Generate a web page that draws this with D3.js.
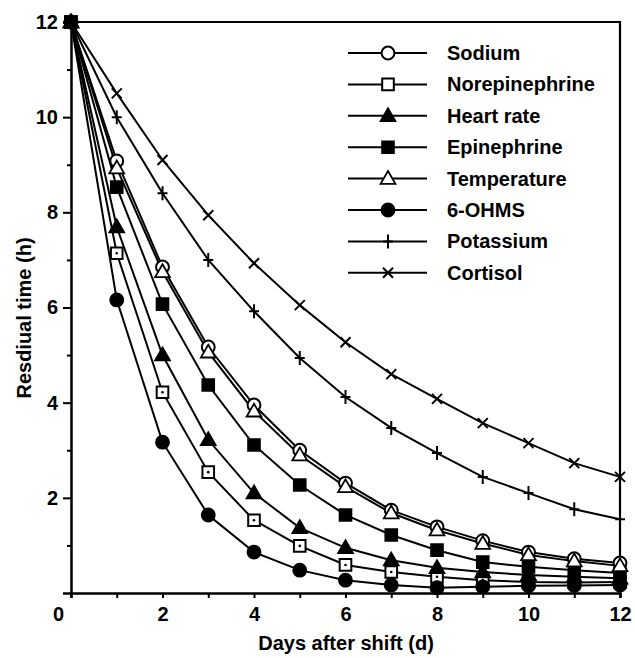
<!DOCTYPE html>
<html>
<head>
<meta charset="utf-8">
<script src="https://cdn.jsdelivr.net/npm/d3@7"></script>
<style>
  body { margin: 0; background: #fff; }
  text { font-family: "Liberation Sans", Arial, sans-serif; font-weight: bold; fill: #000; }
</style>
</head>
<body>
<div class="chart"></div>
<script>
// days after the shift
var days = [0, 1, 2, 3, 4, 5, 6, 7, 8, 9, 10, 11, 12];

// residual time (h)
var sodium         = [12, 9.08, 6.85, 5.17, 3.95, 3.0, 2.31, 1.74, 1.39, 1.1, 0.86, 0.72, 0.63];
var norepinephrine = [12, 7.14, 4.22, 2.54, 1.53, 0.99, 0.59, 0.44, 0.34, 0.27, 0.23, 0.22, 0.23];
var heartRate      = [12, 7.69, 5.0, 3.22, 2.1, 1.37, 0.95, 0.69, 0.53, 0.44, 0.38, 0.34, 0.31];
var epinephrine    = [12, 8.53, 6.07, 4.37, 3.11, 2.27, 1.64, 1.22, 0.9, 0.65, 0.55, 0.48, 0.42];
var temperature    = [12, 8.93, 6.75, 5.06, 3.82, 2.9, 2.23, 1.68, 1.32, 1.04, 0.8, 0.67, 0.57];
var ohms           = [12, 6.16, 3.17, 1.64, 0.86, 0.48, 0.27, 0.17, 0.11, 0.13, 0.15, 0.16, 0.17];
var potassium      = [12, 10.0, 8.4, 7.0, 5.92, 4.94, 4.12, 3.47, 2.94, 2.44, 2.1, 1.76, 1.55];
var cortisol       = [12, 10.5, 9.1, 7.94, 6.93, 6.05, 5.27, 4.6, 4.08, 3.57, 3.15, 2.73, 2.44];

var seriesNames = ["Sodium", "Norepinephrine", "Heart rate", "Epinephrine",
                   "Temperature", "6-OHMS", "Potassium", "Cortisol"];
var seriesValues = [sodium, norepinephrine, heartRate, epinephrine,
                    temperature, ohms, potassium, cortisol];
var seriesMarkers = ["openCircle", "openSquare", "triangle", "square",
                     "openTriangle", "circle", "plus", "times"];

var xTicks = [0, 2, 4, 6, 8, 10, 12];
var yTicks = [2, 4, 6, 8, 10, 12];

var svgWidth = 635;
var svgHeight = 658;

var svg = d3.select(".chart")
  .append("svg")
  .attr("width", svgWidth)
  .attr("height", svgHeight);

var xScale = d3.scaleLinear().domain([0, 12]).range([71, 620]);
var yScale = d3.scaleLinear().domain([0, 12]).range([593, 22]);

// marker drawing, shape by name
function drawMarker(g, type, x, y, inPlot) {
  if (type === "openCircle" || type === "circle") {
    g.append("path")
      .attr("d", d3.symbol(d3.symbolCircle, 130)())
      .attr("transform", "translate(" + x + "," + y + ")")
      .attr("fill", type === "circle" ? "#000" : "#fff")
      .attr("stroke", "#000").attr("stroke-width", 2);
  } else if (type === "openSquare" || type === "square") {
    g.append("path")
      .attr("d", d3.symbol(d3.symbolSquare, 135)())
      .attr("transform", "translate(" + x + "," + y + ")")
      .attr("fill", type === "square" ? "#000" : "#fff")
      .attr("stroke", "#000").attr("stroke-width", 2);
    if (type === "openSquare" && inPlot) {
      g.append("circle").attr("cx", x).attr("cy", y).attr("r", 1.3).attr("fill", "#000");
    }
  } else if (type === "openTriangle" || type === "triangle") {
    g.append("path")
      .attr("d", d3.symbol(d3.symbolTriangle, 95)())
      .attr("transform", "translate(" + x + "," + (y + 1) + ")")
      .attr("fill", type === "triangle" ? "#000" : "#fff")
      .attr("stroke", "#000").attr("stroke-width", 1.8);
  } else if (type === "plus") {
    g.append("path")
      .attr("d", "M-5,0H5M0,-7V7")
      .attr("transform", "translate(" + x + "," + y + ")")
      .attr("stroke", "#000").attr("stroke-width", 2);
  } else if (type === "times") {
    g.append("path")
      .attr("d", "M-5,-5L5,5M-5,5L5,-5")
      .attr("transform", "translate(" + x + "," + y + ")")
      .attr("stroke", "#000").attr("stroke-width", 2);
  }
}

var line = d3.line()
  .x(function(d, i) { return xScale(days[i]); })
  .y(function(d) { return yScale(d); });

// frame: top and right border
svg.append("path")
  .attr("d", "M" + xScale(0) + "," + yScale(12) + "H" + xScale(12) + "V" + yScale(0))
  .attr("fill", "none").attr("stroke", "#000").attr("stroke-width", 2.2);

// axes
var bottomAxis = d3.axisBottom(xScale)
  .tickValues(d3.range(0, 13, 1))
  .tickSize(5)
  .tickFormat(function(d) { return xTicks.indexOf(d) >= 0 ? d : ""; });
var leftAxis = d3.axisLeft(yScale)
  .tickValues(d3.range(1, 13, 1))
  .tickSize(8)
  .tickFormat(function(d) { return yTicks.indexOf(d) >= 0 ? d : ""; });

var xAxisG = svg.append("g")
  .attr("transform", "translate(0," + yScale(0) + ")")
  .call(bottomAxis);
var yAxisG = svg.append("g")
  .attr("transform", "translate(" + xScale(0) + ",0)")
  .call(leftAxis);

[xAxisG, yAxisG].forEach(function(a) {
  a.select(".domain").attr("stroke", "#000").attr("stroke-width", 2.5);
  a.selectAll(".tick line").attr("stroke", "#000").attr("stroke-width", 2);
  a.selectAll(".tick text")
    .style("font-family", "'Liberation Sans', Arial, sans-serif")
    .style("font-weight", "bold")
    .style("font-size", "20px")
    .attr("fill", "#000");
});
yAxisG.selectAll(".tick").filter(function(d) { return d % 2 === 1; })
  .select("line").attr("x2", -4);
yAxisG.selectAll(".tick text").attr("x", -13);
xAxisG.selectAll(".tick text").attr("y", 14);
xAxisG.selectAll(".tick").filter(function(d) { return d === 0; })
  .select("text").attr("dx", -13);

// series lines then markers
var plot = svg.append("g");
seriesValues.forEach(function(vals, s) {
  plot.append("path")
    .attr("d", line(vals))
    .attr("fill", "none")
    .attr("stroke", "#000")
    .attr("stroke-width", 2);
});
seriesValues.forEach(function(vals, s) {
  var g = plot.append("g");
  vals.forEach(function(v, i) {
    drawMarker(g, seriesMarkers[s], xScale(days[i]), yScale(v), true);
  });
});

// legend
var legend = svg.append("g");
seriesNames.forEach(function(name, i) {
  var y = 53 + i * 31.4;
  legend.append("line")
    .attr("x1", 348).attr("x2", 427).attr("y1", y).attr("y2", y)
    .attr("stroke", "#000").attr("stroke-width", 2);
  drawMarker(legend, seriesMarkers[i], 388, y, false);
  legend.append("text")
    .attr("x", 447).attr("y", y + 7)
    .style("font-size", "20px")
    .text(name);
});

// axis titles
svg.append("text")
  .attr("x", 346).attr("y", 650)
  .attr("text-anchor", "middle")
  .style("font-size", "20px")
  .text("Days after shift (d)");

svg.append("text")
  .attr("transform", "translate(31,318) rotate(-90)")
  .attr("text-anchor", "middle")
  .style("font-size", "20px")
  .text("Resdiual time (h)");
</script>
</body>
</html>
